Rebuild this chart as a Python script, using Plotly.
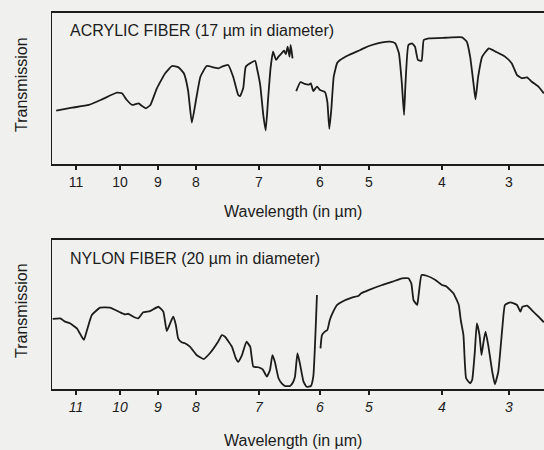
import numpy as np
import plotly.graph_objects as go

# ---------------- data ----------------
WL_TICKS = [11, 10, 9, 8, 7, 6, 5, 4, 3]
WL_TICK_TEXT = ["11", "10", "9", "8", "7", "6", "5", "4", "3"]

# Acrylic fiber spectrum (wavelength in µm, transmission in % of panel height)
acrylic_wl_1 = [11.45, 11.09, 10.71, 10.41, 10.07, 9.95, 9.82, 9.68, 9.51, 9.42, 9.32, 9.20, 9.03,
                8.81, 8.63, 8.46, 8.32, 8.21, 8.11, 8.00, 7.93, 7.83, 7.72, 7.64, 7.59, 7.49, 7.41,
                7.33, 7.30, 7.25, 7.21, 7.12, 7.06, 7.03, 6.98, 6.93, 6.89, 6.85, 6.81, 6.77, 6.72,
                6.68, 6.63, 6.59, 6.56, 6.53, 6.50, 6.48, 6.45]
acrylic_t_1 = [35.3, 37.3, 39.1, 42.8, 47.2, 46.8, 42.4, 39.1, 40.2, 38.4, 36.9, 39.1, 50.1,
               60.1, 64.9, 64.0, 60.1, 49.0, 27.4, 42.4, 57.8, 64.9, 64.0, 63.4, 64.4, 65.6, 57.8,
               45.7, 45.0, 50.3, 64.4, 67.2, 68.2, 62.9, 52.3, 32.5, 22.2, 43.7, 63.6, 74.4, 68.9,
               71.1, 73.3, 75.0, 72.8, 77.7, 71.1, 78.8, 70.0]
acrylic_wl_2 = [6.39, 6.32, 6.25, 6.18, 6.15, 6.11, 6.05, 6.00, 5.90, 5.85, 5.81, 5.77, 5.72,
                5.65, 5.59, 5.41, 5.18, 5.11, 4.96, 4.82, 4.71, 4.64, 4.59, 4.55, 4.52, 4.50,
                4.46, 4.41, 4.37, 4.33, 4.28, 4.25, 4.18, 3.95, 3.70, 3.63, 3.58, 3.53, 3.50,
                3.46, 3.40, 3.30, 3.20, 3.06, 2.96, 2.88, 2.81, 2.73, 2.66, 2.56, 2.48]
acrylic_t_2 = [48.3, 54.3, 53.0, 52.6, 53.4, 48.3, 51.3, 49.0, 47.7, 41.1, 23.2, 35.8, 57.8,
               66.9, 68.9, 72.2, 75.5, 76.6, 78.8, 80.6, 81.0, 79.9, 73.3, 53.4, 32.5, 53.4,
               78.8, 79.9, 77.7, 68.9, 68.4, 82.1, 83.2, 83.6, 83.9, 81.0, 71.1, 53.4, 42.8,
               57.8, 71.1, 76.6, 74.4, 71.1, 66.7, 58.9, 56.8, 57.4, 54.5, 51.2, 46.8]

# Nylon fiber spectrum
nylon_wl_1 = [11.53, 11.36, 11.25, 11.14, 10.98, 10.87, 10.82, 10.76, 10.64, 10.45, 10.23, 10.00,
              9.87, 9.78, 9.65, 9.52, 9.39, 9.21, 8.99, 8.86, 8.77, 8.68, 8.60, 8.53, 8.47, 8.38,
              8.29, 8.16, 7.99, 7.88, 7.78, 7.65, 7.59, 7.54, 7.43, 7.37, 7.33, 7.27, 7.20, 7.14,
              7.09, 7.01, 6.94, 6.87, 6.82, 6.78, 6.74, 6.68, 6.62, 6.57, 6.49, 6.44, 6.41, 6.37,
              6.33, 6.27, 6.22, 6.15, 6.11, 6.05]
nylon_t_1 = [47.0, 47.4, 45.2, 44.1, 40.7, 35.1, 32.9, 38.5, 49.7, 54.6, 54.6, 51.5,
             50.1, 50.5, 48.5, 47.4, 51.5, 52.3, 55.2, 51.9, 38.9, 44.1, 48.5, 43.0, 34.0, 31.3,
             30.7, 28.4, 22.8, 20.1, 24.0, 31.7, 36.2, 35.1, 28.4, 20.8, 18.3, 22.8, 31.7, 28.4,
             15.0, 14.6, 13.2, 8.3, 12.8, 22.8, 18.3, 7.2, 3.4, 2.0, 2.0, 4.7, 8.3, 24.0,
             17.2, 4.9, 1.5, 2.0, 8.3, 63.1]
nylon_wl_2 = [5.99, 5.96, 5.90, 5.85, 5.80, 5.73, 5.65, 5.55, 5.35, 5.21, 5.16, 5.01, 4.82,
              4.68, 4.55, 4.46, 4.42, 4.39, 4.34, 4.32, 4.28, 4.21, 4.09, 4.00, 3.93, 3.83,
              3.75, 3.72, 3.68, 3.64, 3.58, 3.55, 3.51, 3.48, 3.44, 3.41, 3.38, 3.35, 3.31,
              3.25, 3.21, 3.16, 3.10, 3.06, 2.98, 2.88, 2.83, 2.80, 2.73, 2.66, 2.56, 2.48]
nylon_t_2 = [27.3, 36.2, 38.5, 39.6, 46.3, 51.9, 56.4, 58.6, 61.3, 62.6, 64.2, 66.4, 69.8,
             72.0, 74.3, 74.3, 70.9, 59.7, 56.4, 63.1, 76.5, 76.0, 73.2, 69.8, 68.7, 64.2,
             56.4, 46.3, 36.2, 7.2, 3.8, 6.0, 25.0, 44.1, 36.2, 22.8, 31.7, 38.5, 29.5,
             11.6, 3.2, 11.6, 40.7, 56.4, 58.2, 56.4, 51.9, 55.2, 55.9, 53.0, 48.5, 44.8]

# ------------- axis calibration (non-linear grating scale of the original) -------------
CAL_WL = WL_TICKS
CAL_POS = [76, 120, 158, 196, 259, 320, 369, 442, 509]
X_RANGE = [52, 544]


def wl_scale(wl):
    wl = np.asarray(wl, dtype=float)
    xp = np.array(CAL_WL[::-1], dtype=float)
    fp = np.array(CAL_POS[::-1], dtype=float)
    out = np.interp(wl, xp, fp)
    lo_slope = (fp[1] - fp[0]) / (xp[1] - xp[0])
    hi_slope = (fp[-1] - fp[-2]) / (xp[-1] - xp[-2])
    out = np.where(wl < xp[0], fp[0] + (wl - xp[0]) * lo_slope, out)
    out = np.where(wl > xp[-1], fp[-1] + (wl - xp[-1]) * hi_slope, out)
    return out


BG = "#f0f0ee"
INK = "#1c1c1c"
FONT = "Liberation Sans, Arial, sans-serif"
W, H = 544, 450

fig = go.Figure()
for wl, t, ax in [(acrylic_wl_1, acrylic_t_1, "1"), (acrylic_wl_2, acrylic_t_2, "1"),
                  (nylon_wl_1, nylon_t_1, "2"), (nylon_wl_2, nylon_t_2, "2")]:
    fig.add_trace(go.Scatter(x=wl_scale(wl), y=t, mode="lines",
                             line=dict(color=INK, width=1.8, shape="spline", smoothing=0.4),
                             xaxis="x" if ax == "1" else "x2",
                             yaxis="y" if ax == "1" else "y2",
                             showlegend=False, hoverinfo="skip"))

def ydom(top_px, bot_px):
    return [1 - bot_px / H, 1 - top_px / H]

xcommon = dict(range=X_RANGE, domain=[X_RANGE[0] / W, 1], showgrid=False, zeroline=False,
               showline=True, linecolor=INK, linewidth=1.8, mirror=True,
               ticks="outside", ticklen=4, tickwidth=1.2, tickcolor=INK,
               tickvals=list(wl_scale(WL_TICKS)), ticklabelstandoff=0)
ycommon = dict(range=[0, 100], showgrid=False, zeroline=False, showticklabels=False,
               showline=True, linecolor=INK, linewidth=1.5, ticks="")

fig.update_layout(
    width=W, height=H, autosize=False,
    margin=dict(l=0, r=0, t=0, b=0),
    paper_bgcolor=BG, plot_bgcolor=BG,
    font=dict(family=FONT, color=INK),
    xaxis=dict(**xcommon, anchor="y", ticktext=WL_TICK_TEXT,
               tickfont=dict(size=14, family=FONT, color=INK)),
    yaxis=dict(**ycommon, domain=ydom(13, 164), anchor="x"),
    xaxis2=dict(**xcommon, anchor="y2", ticktext=["<i>%s</i>" % s for s in WL_TICK_TEXT],
                tickfont=dict(size=14, family=FONT, color=INK)),
    yaxis2=dict(**ycommon, domain=ydom(240, 389), anchor="x2"),
)

ann = [
    dict(text="ACRYLIC FIBER (17 µm in diameter)", x=68, y=30.5),
    dict(text="NYLON FIBER (20 µm in diameter)", x=68, y=258.5),
]
for a in ann:
    fig.add_annotation(text=a["text"], xref="paper", yref="paper", x=a["x"] / W, y=1 - a["y"] / H,
                       xanchor="left", yanchor="middle", showarrow=False,
                       font=dict(size=16, family=FONT, color=INK))
for yc in [212, 440]:
    fig.add_annotation(text="Wavelength (in µm)", xref="paper", yref="paper", x=293 / W, y=1 - yc / H,
                       xanchor="center", yanchor="middle", showarrow=False,
                       font=dict(size=16, family=FONT, color=INK))
for yc in [85, 311]:
    fig.add_annotation(text="Transmission", xref="paper", yref="paper", x=21 / W, y=1 - yc / H,
                       xanchor="center", yanchor="middle", showarrow=False, textangle=-90,
                       font=dict(size=16, family=FONT, color=INK))

fig.write_html("out.html", config={"displayModeBar": False, "staticPlot": True},
               post_script="document.body.style.margin='0';document.body.style.padding='0';"
                           "document.body.style.background='%s';" % BG)
